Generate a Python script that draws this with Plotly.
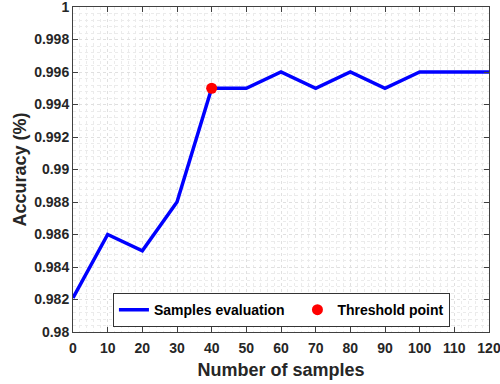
import plotly.graph_objects as go

samples = [0, 10, 20, 30, 40, 50, 60, 70, 80, 90, 100, 110, 120]
accuracy = [0.9821, 0.986, 0.985, 0.988, 0.995, 0.995, 0.996, 0.995, 0.996, 0.995, 0.996, 0.996, 0.996]
threshold_x = [40]
threshold_y = [0.995]
y_tickvals = [0.98, 0.982, 0.984, 0.986, 0.988, 0.99, 0.992, 0.994, 0.996, 0.998, 1.0]
y_ticktext = ["0.98", "0.982", "0.984", "0.986", "0.988", "0.99", "0.992", "0.994", "0.996", "0.998", "1"]
x_tickvals = list(range(0, 121, 10))

font_family = "Liberation Sans, Arial, sans-serif"
tick_color = "#262626"

fig = go.Figure()
fig.add_trace(go.Scatter(x=samples, y=accuracy, mode="lines", name="<b>Samples evaluation</b>\u00a0\u00a0",
                         line=dict(color="#0000FF", width=3.5)))
fig.add_trace(go.Scatter(x=threshold_x, y=threshold_y, mode="markers", name="<b>Threshold point</b>",
                         marker=dict(color="#FF0000", size=11)))

common = dict(ticks="inside", ticklen=5, tickcolor="#404040",
              showline=True, linecolor="#404040", linewidth=1, mirror="ticks", zeroline=False,
              automargin=False, ticklabeloverflow="allow",
              tickfont=dict(family=font_family, size=14, color=tick_color),
              showgrid=True, gridcolor="#E0E0E0", griddash="dot", gridwidth=1)

fig.update_xaxes(range=[0, 120], tickvals=x_tickvals, ticktext=["<b>%d</b>" % v for v in x_tickvals],
                 title=dict(text="<b>Number of samples</b>", font=dict(family=font_family, size=18, color=tick_color), standoff=8),
                 minor=dict(dtick=2, tick0=0, showgrid=True, gridcolor="#EBEBEB", griddash="dot", ticks=""),
                 ticklabelstandoff=3,
                 **common)
fig.update_yaxes(range=[0.98, 1.0], tickvals=y_tickvals, ticktext=["<b>%s</b>" % t for t in y_ticktext],
                 title=dict(text="<b>Accuracy (%)</b>", font=dict(family=font_family, size=18, color=tick_color), standoff=2),
                 minor=dict(dtick=0.0004, tick0=0.98, showgrid=True, gridcolor="#EBEBEB", griddash="dot", ticks=""),
                 **common)

fig.update_layout(
    width=500, height=384,
    margin=dict(l=73, r=11, t=7, b=52),
    paper_bgcolor="white", plot_bgcolor="white",
    font=dict(family=font_family, color=tick_color),
    legend=dict(orientation="h", x=0.096, y=0.015, xanchor="left", yanchor="bottom",
                bgcolor="white", bordercolor="#333", borderwidth=1,
                font=dict(family=font_family, size=14, color="#000"),
                itemwidth=30, tracegroupgap=0),
)

fig.write_html("out.html", config={"displayModeBar": False},
               post_script="document.body.style.margin='0px';")
